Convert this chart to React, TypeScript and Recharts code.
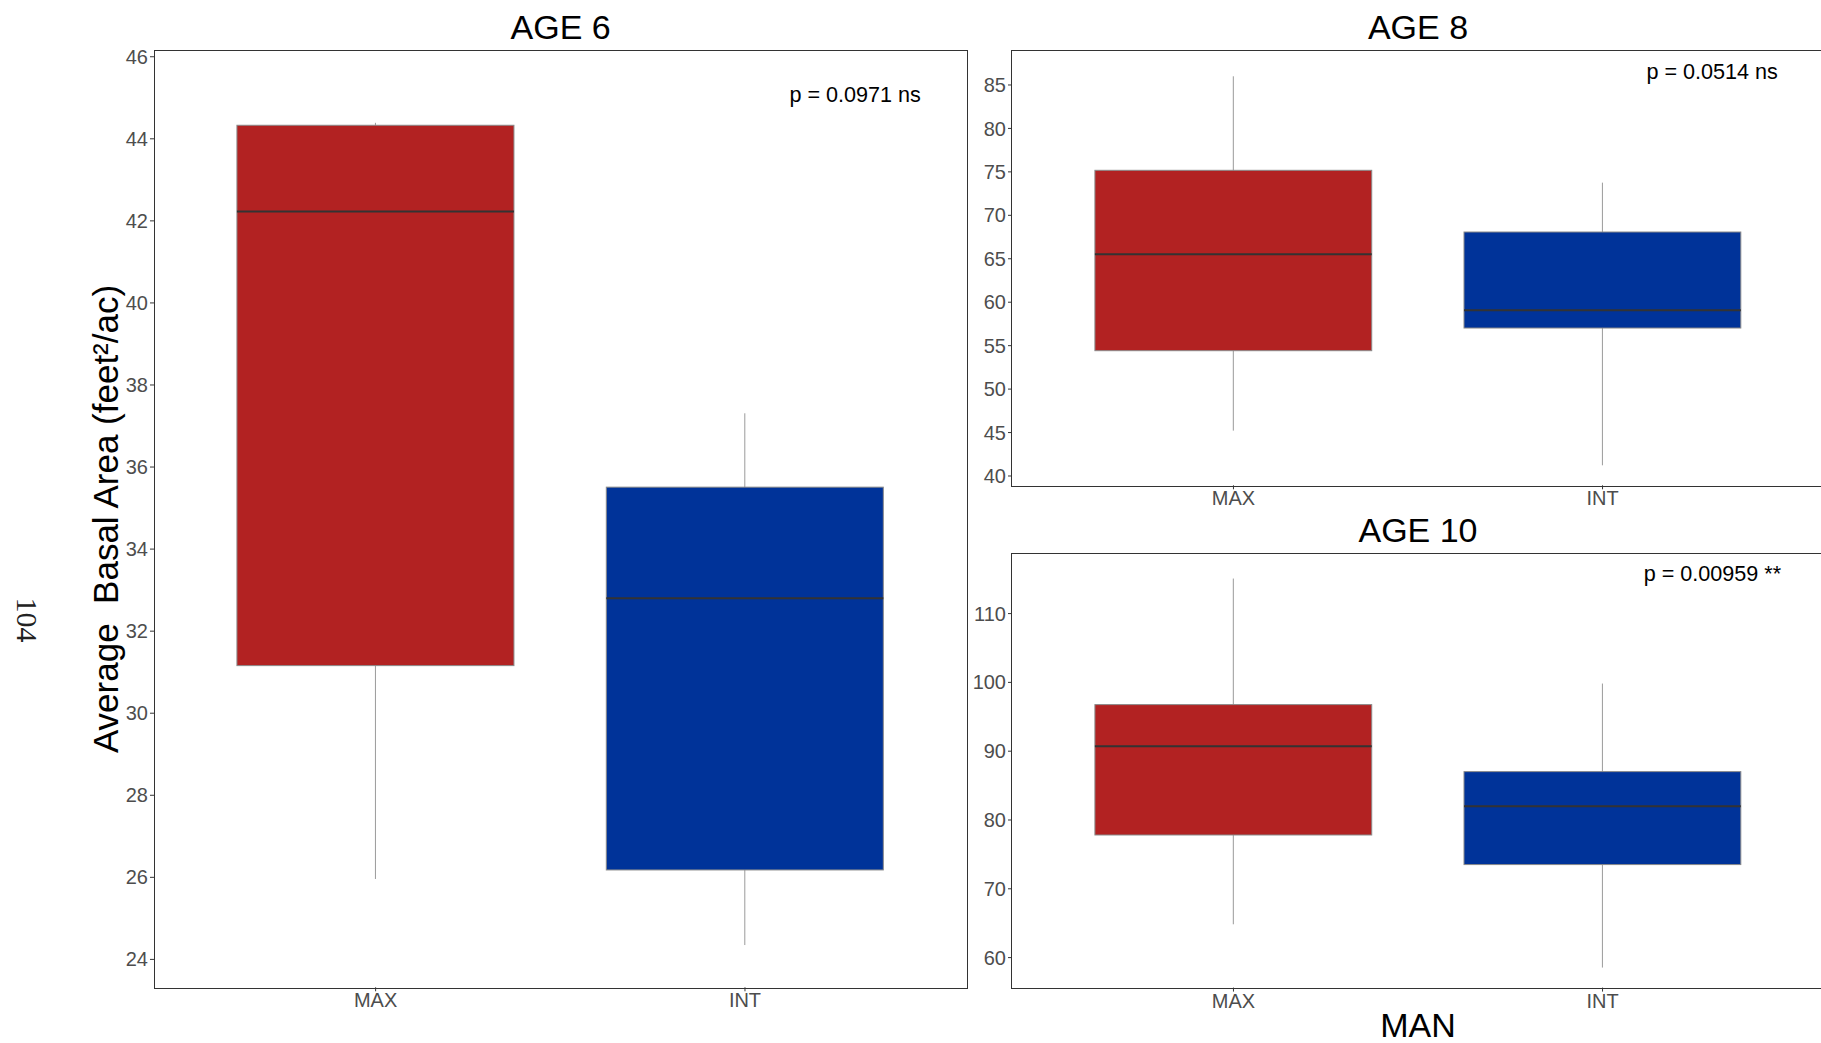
import React from 'react'
import { BarChart, Bar, XAxis, YAxis } from 'recharts'

// categories and fills
const groups = ['MAX', 'INT']
const groupFills = ['#B22222', '#003399']

// AGE 6 box stats (MAX, INT)
const age6Min = [25.96, 24.35]
const age6Q1 = [31.16, 26.18]
const age6Median = [42.23, 32.8]
const age6Q3 = [44.33, 35.51]
const age6Max = [44.39, 37.31]
const age6Ticks = [24, 26, 28, 30, 32, 34, 36, 38, 40, 42, 44, 46]

// AGE 8
const age8Min = [45.22, 41.23]
const age8Q1 = [54.42, 57.03]
const age8Median = [65.51, 59.07]
const age8Q3 = [75.18, 68.08]
const age8Max = [86.0, 73.76]
const age8Ticks = [40, 45, 50, 55, 60, 65, 70, 75, 80, 85]

// AGE 10
const age10Min = [64.84, 58.55]
const age10Q1 = [77.82, 73.52]
const age10Median = [90.71, 82.0]
const age10Q3 = [96.77, 87.03]
const age10Max = [115.09, 99.83]
const age10Ticks = [60, 70, 80, 90, 100, 110]

const FONT = '"Liberation Sans", Arial, sans-serif'
const Y_W = 60
const X_H = 40
const TOP_M = 20

const buildRows = (mn: number[], q1: number[], md: number[], q3: number[], mx: number[]) =>
  groups.map((g, i) => ({ group: g, min: mn[i], q1: q1[i], median: md[i], q3: q3[i], max: mx[i], fill: groupFills[i] }))

// whisker + box + median drawn inside the [min, max] range bar
const BoxShape = (props: any) => {
  const { x, y, width, height, payload } = props
  const top = Math.min(y, y + height)
  const bottom = Math.max(y, y + height)
  const span = payload.max - payload.min
  const yOf = (v: number) => (span === 0 ? top : top + ((bottom - top) * (payload.max - v)) / span)
  const cx = x + width / 2
  const yq3 = yOf(payload.q3)
  const yq1 = yOf(payload.q1)
  const ym = yOf(payload.median)
  return (
    <g>
      <line x1={cx} x2={cx} y1={top} y2={bottom} stroke="#9a9a9a" strokeWidth={1} />
      <rect x={x} y={yq3} width={width} height={yq1 - yq3} fill={payload.fill} stroke="#8a8a8a" strokeWidth={1} />
      <line x1={x} x2={x + width} y1={ym} y2={ym} stroke="#333333" strokeWidth={2} />
    </g>
  )
}

type PanelProps = {
  left: number
  top: number
  width: number
  height: number
  rows: any[]
  domain: [number, number]
  ticks: number[]
}

const Panel: React.FC<PanelProps> = ({ left, top, width, height, rows, domain, ticks }) => {
  const pad = width / 22
  const barSize = (width * 15) / 44
  return (
    <div style={{ position: 'absolute', left: left - Y_W, top: top - TOP_M }}>
      <BarChart
        width={Y_W + width}
        height={height + X_H + TOP_M}
        data={rows}
        margin={{ top: TOP_M, right: 0, bottom: 0, left: 0 }}
        barSize={barSize}
      >
        <XAxis
          dataKey="group"
          interval={0}
          padding={{ left: pad, right: pad }}
          axisLine={false}
          tickLine={{ stroke: '#333333' }}
          tickSize={4}
          tickMargin={2}
          height={X_H}
          tick={{ fill: '#4D4D4D', fontSize: 20, fontFamily: FONT }}
        />
        <YAxis
          type="number"
          domain={domain}
          ticks={ticks}
          interval={0}
          allowDataOverflow
          width={Y_W}
          axisLine={false}
          tickLine={{ stroke: '#333333' }}
          tickSize={4}
          tickMargin={2}
          tick={{ fill: '#4D4D4D', fontSize: 20, fontFamily: FONT }}
        />
        <Bar dataKey={(d: any) => [d.min, d.max]} shape={<BoxShape />} isAnimationActive={false} />
      </BarChart>
      <div
        style={{
          position: 'absolute',
          left: Y_W - 0.75,
          top: TOP_M - 0.75,
          width: width,
          height: height,
          border: '1.5px solid #333333',
          pointerEvents: 'none',
        }}
      />
    </div>
  )
}

export default function App() {
  const p1 = { left: 154.4, top: 51, width: 812.6, height: 936.3 }
  const p2 = { left: 1012, top: 51, width: 812, height: 434.3 }
  const p3 = { left: 1012, top: 553.7, width: 812, height: 433.6 }
  return (
    <div
      style={{
        position: 'fixed',
        left: 0,
        top: 0,
        width: 1821,
        height: 1043,
        overflow: 'hidden',
        background: '#ffffff',
      }}
    >
      <Panel {...p1} rows={buildRows(age6Min, age6Q1, age6Median, age6Q3, age6Max)} domain={[23.32, 46.14]} ticks={age6Ticks} />
      <Panel {...p2} rows={buildRows(age8Min, age8Q1, age8Median, age8Q3, age8Max)} domain={[38.93, 88.91]} ticks={age8Ticks} />
      <Panel {...p3} rows={buildRows(age10Min, age10Q1, age10Median, age10Q3, age10Max)} domain={[55.64, 118.66]} ticks={age10Ticks} />
      <svg
        width={1821}
        height={1043}
        style={{ position: 'absolute', left: 0, top: 0, pointerEvents: 'none' }}
        fontFamily={FONT}
      >
        <text x={p1.left + p1.width / 2} y={39.3} fontSize={34} textAnchor="middle" fill="#000">AGE 6</text>
        <text x={p2.left + p2.width / 2} y={39.3} fontSize={34} textAnchor="middle" fill="#000">AGE 8</text>
        <text x={p3.left + p3.width / 2} y={541.6} fontSize={34} textAnchor="middle" fill="#000">AGE 10</text>
        <text x={p3.left + p3.width / 2} y={1036.7} fontSize={34} textAnchor="middle" fill="#000">MAN</text>
        <text x={789.4} y={101.7} fontSize={21.6} fill="#000">p = 0.0971 ns</text>
        <text x={1646.4} y={79.3} fontSize={21.6} fill="#000">p = 0.0514 ns</text>
        <text x={1643.7} y={581} fontSize={21.6} fill="#000">p = 0.00959 **</text>
        <text
          x={0}
          y={0}
          transform="translate(118 519) rotate(-90)"
          fontSize={35}
          textAnchor="middle"
          fill="#000"
          style={{ whiteSpace: 'pre' }}
        >
          {'Average  Basal Area (feet\u00B2/ac)'}
        </text>
        <text
          x={0}
          y={0}
          transform="translate(16.5 620) rotate(90)"
          fontSize={30}
          textAnchor="middle"
          fill="#222"
          fontFamily='"Liberation Serif", "Times New Roman", serif'
        >
          104
        </text>
      </svg>
    </div>
  )
}
